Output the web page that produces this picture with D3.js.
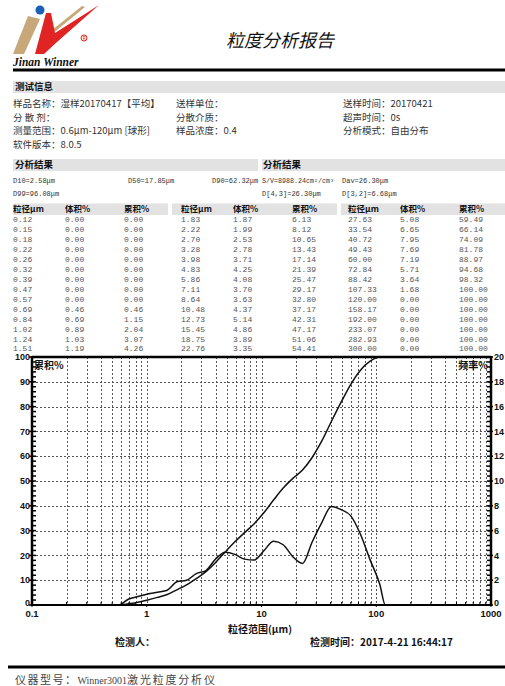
<!DOCTYPE html>
<meta charset="utf-8">
<head>
    <script src="https://cdn.jsdelivr.net/npm/d3@7"></script>
    <style>
        body { margin: 0; background: #fff; }
        text { font-family: "Noto Sans CJK SC", sans-serif; }
        .num { font-family: "Liberation Mono", monospace; font-size: 8px; fill: #555; }
        .res { font-family: "Liberation Mono", monospace; font-size: 7px; fill: #333; }
        .info { font-size: 9.5px; fill: #333; }
        .bold { font-weight: bold; fill: #111; }
        .tick { font-family: "Liberation Sans", Arial, sans-serif; font-weight: bold; font-size: 9px; fill: #111; }
    </style>
</head>
<body>
<script>
    // data from the report table
    var sizes = [0.12, 0.15, 0.18, 0.22, 0.26, 0.32, 0.39, 0.47, 0.57, 0.69, 0.84, 1.02, 1.24, 1.51,
        1.83, 2.22, 2.70, 3.28, 3.98, 4.83, 5.86, 7.11, 8.64, 10.48, 12.73, 15.45, 18.75, 22.76,
        27.63, 33.54, 40.72, 49.43, 60.00, 72.84, 88.42, 107.33, 120.00, 158.17, 192.00, 233.07, 282.93, 300.00];
    var volume = [0, 0, 0, 0, 0, 0, 0, 0, 0, 0.46, 0.69, 0.89, 1.03, 1.19,
        1.87, 1.99, 2.53, 2.78, 3.71, 4.25, 4.08, 3.70, 3.63, 4.37, 5.14, 4.86, 3.89, 3.35,
        5.08, 6.65, 7.95, 7.69, 7.19, 5.71, 3.64, 1.68, 0, 0, 0, 0, 0, 0];
    var cumulative = [0, 0, 0, 0, 0, 0, 0, 0, 0, 0.46, 1.15, 2.04, 3.07, 4.26,
        6.13, 8.12, 10.65, 13.43, 17.14, 21.39, 25.47, 29.17, 32.80, 37.17, 42.31, 47.17, 51.06, 54.41,
        59.49, 66.14, 74.09, 81.78, 88.97, 94.68, 98.32, 100, 100, 100, 100, 100, 100, 100];

    var infoRows = [
        ["样品名称：湿样20170417【平均】", "送样单位：", "送样时间：20170421"],
        ["分 散 剂：", "分散介质：", "超声时间：0s"],
        ["测量范围：0.6μm-120μm [球形]", "样品浓度：0.4", "分析模式：自由分布"],
        ["软件版本：8.0.5", "", ""]
    ];
    var resultsLeft = [["D10=2.58μm", "D50=17.85μm", "D90=62.32μm"], ["D99=96.08μm", "", ""]];
    var resultsRight = [["S/V=8988.24cm²/cm³", "Dav=26.30μm"], ["D[4,3]=26.30μm", "D[3,2]=6.68μm"]];
    var tableHeaders = ["粒径μm", "体积%", "累积%"];
    var xTicks = [0.1, 1, 10, 100, 1000];
    var yTicksLeft = [0, 10, 20, 30, 40, 50, 60, 70, 80, 90, 100];
    var yTicksRight = [0, 2, 4, 6, 8, 10, 12, 14, 16, 18, 20];

    var W = 505, H = 686;
    var svg = d3.select("body").append("svg").attr("width", W).attr("height", H);

    // ---- logo ----
    var logo = svg.append("g");
    logo.append("path").attr("d", "M13,54 L28,16 L40,19 L24,54 Z").attr("fill", "#c8a87a");
    logo.append("path").attr("d", "M42,38 L82,6 L85,7 L46,39 Z").attr("fill", "#c8a87a");
    logo.append("path").attr("d", "M35,54 L46,13 L51,13 L55,33 L99,5 L57,42 L44,54 Z").attr("fill", "#e02424");
    logo.append("circle").attr("cx", 40).attr("cy", 10).attr("r", 4.5).attr("fill", "#1c5fb8");
    logo.append("circle").attr("cx", 84).attr("cy", 38).attr("r", 3).attr("fill", "none").attr("stroke", "#e02424").attr("stroke-width", 1);
    logo.append("text").attr("x", 84).attr("y", 40).attr("text-anchor", "middle")
        .style("font-size", "5px").style("fill", "#e02424").text("R");
    logo.append("text").attr("x", 13).attr("y", 66)
        .style("font-family", "'Liberation Serif', serif").style("font-style", "italic").style("font-weight", "bold")
        .style("font-size", "11.5px").style("fill", "#111").text("Jinan Winner");

    svg.append("text").attr("x", 280).attr("y", 47).attr("text-anchor", "middle")
        .style("font-size", "18px").style("font-style", "italic").style("fill", "#111")
        .text("粒度分析报告");

    svg.append("line").attr("x1", 13).attr("x2", W).attr("y1", 70).attr("y2", 70)
        .attr("stroke", "#000").attr("stroke-width", 3);

    // ---- test info ----
    svg.append("rect").attr("x", 13).attr("y", 81).attr("width", W - 13).attr("height", 12).attr("fill", "#e2e2e2");
    svg.append("text").attr("class", "info bold").attr("x", 15).attr("y", 87).attr("dy", "0.35em").text("测试信息");
    var infoX = [13, 176, 343];
    infoRows.forEach(function (row, i) {
        row.forEach(function (t, j) {
            svg.append("text").attr("class", "info").attr("x", infoX[j]).attr("y", 104 + i * 13.5)
                .attr("dy", "0.35em").text(t);
        });
    });

    // ---- results ----
    svg.append("rect").attr("x", 13).attr("y", 159).attr("width", 245).attr("height", 12).attr("fill", "#e2e2e2");
    svg.append("rect").attr("x", 262).attr("y", 159).attr("width", W - 262).attr("height", 12).attr("fill", "#e2e2e2");
    svg.append("text").attr("class", "info bold").attr("x", 15).attr("y", 165).attr("dy", "0.35em").text("分析结果");
    svg.append("text").attr("class", "info bold").attr("x", 263).attr("y", 165).attr("dy", "0.35em").text("分析结果");
    var resLX = [13, 128, 212], resRX = [262, 342];
    resultsLeft.forEach(function (row, i) {
        row.forEach(function (t, j) {
            svg.append("text").attr("class", "res").attr("x", resLX[j]).attr("y", 181 + i * 13).attr("dy", "0.35em").text(t);
        });
    });
    resultsRight.forEach(function (row, i) {
        row.forEach(function (t, j) {
            var el = svg.append("text").attr("class", "res").attr("x", resRX[j]).attr("y", 181 + i * 13).attr("dy", "0.35em").text(t);
            if (i === 0 && j === 0) el.attr("textLength", 72).attr("lengthAdjust", "spacingAndGlyphs");
        });
    });

    // ---- table ----
    var groupX = [13, 181, 348], colOff = [0, 52, 111];
    var bandX = [[13, 168], [172, 337], [341, W]];
    bandX.forEach(function (b) {
        svg.append("rect").attr("x", b[0]).attr("y", 203.5).attr("width", b[1] - b[0]).attr("height", 11.5).attr("fill", "#e2e2e2");
    });
    groupX.forEach(function (gx, g) {
        tableHeaders.forEach(function (h, c) {
            svg.append("text").attr("class", "info bold").style("font-size", "8.5px")
                .attr("x", gx + colOff[c]).attr("y", 209.3).attr("dy", "0.35em").text(h);
        });
        for (var r = 0; r < 14; r++) {
            var k = g * 14 + r;
            var vals = [sizes[k].toFixed(2), volume[k].toFixed(2), cumulative[k].toFixed(2)];
            vals.forEach(function (v, c) {
                svg.append("text").attr("class", "num").attr("x", gx + colOff[c]).attr("y", 219.3 + r * 9.95)
                    .attr("dy", "0.35em").text(v);
            });
        }
    });

    // ---- chart ----
    var x = d3.scaleLog().domain([0.1, 1000]).range([32, 491]);
    var y = d3.scaleLinear().domain([0, 100]).range([605, 357]);
    var y2 = d3.scaleLinear().domain([0, 20]).range([605, 357]);

    var logTicks = [];
    [0.1, 1, 10, 100].forEach(function (d) {
        for (var m = 1; m <= 9; m++) logTicks.push(d * m);
    });
    logTicks.push(1000);

    var grid = svg.append("g").attr("stroke", "#555").attr("stroke-width", 1).attr("stroke-dasharray", "2,2");
    grid.selectAll("line.v").data(logTicks.filter(function (d) { return d > 0.1 && d < 1000; }))
        .enter().append("line")
        .attr("x1", function (d) { return Math.round(x(d)) + 0.5; })
        .attr("x2", function (d) { return Math.round(x(d)) + 0.5; })
        .attr("y1", y(100)).attr("y2", y(0));
    grid.selectAll("line.h").data(yTicksLeft.filter(function (d) { return d > 0 && d < 100; }))
        .enter().append("line")
        .attr("y1", function (d) { return Math.round(y(d)) + 0.5; })
        .attr("y2", function (d) { return Math.round(y(d)) + 0.5; })
        .attr("x1", x(0.1)).attr("x2", x(1000));

    // curves
    var cumLine = d3.line().x(function (d) { return x(d[0]); }).y(function (d) { return y(d[1]); })
        .curve(d3.curveMonotoneX);
    var volLine = d3.line().x(function (d) { return x(d[0]); }).y(function (d) { return y2(d[1]); })
        .curve(d3.curveMonotoneX);
    var cumPts = sizes.map(function (s, i) { return [s, cumulative[i]]; });
    var volPts = sizes.map(function (s, i) { return [s, volume[i]]; });
    svg.append("path").datum(cumPts).attr("d", cumLine).attr("fill", "none").attr("stroke", "#111").attr("stroke-width", 1.5);
    svg.append("path").datum(volPts).attr("d", volLine).attr("fill", "none").attr("stroke", "#111").attr("stroke-width", 1.5);

    // frame
    var frame = svg.append("g").attr("stroke", "#000");
    frame.append("line").attr("x1", x(0.1)).attr("x2", x(0.1)).attr("y1", y(100) - 1).attr("y2", y(0) + 1).attr("stroke-width", 2.5);
    frame.append("line").attr("x1", x(1000)).attr("x2", x(1000)).attr("y1", y(100) - 1).attr("y2", y(0) + 1).attr("stroke-width", 2.5);
    frame.append("line").attr("x1", x(0.1)).attr("x2", x(1000)).attr("y1", y(100)).attr("y2", y(100)).attr("stroke-width", 2.5);
    frame.append("line").attr("x1", x(0.1)).attr("x2", x(1000)).attr("y1", y(0)).attr("y2", y(0)).attr("stroke-width", 2);

    // minor ticks
    var minorY = d3.range(0, 101, 2);
    frame.selectAll("line.ml").data(minorY).enter().append("line")
        .attr("x1", function (d) { return d % 10 === 0 ? x(0.1) - 3 : x(0.1); })
        .attr("x2", x(0.1) + 4)
        .attr("y1", function (d) { return y(d); }).attr("y2", function (d) { return y(d); })
        .attr("stroke-width", 1.5);
    frame.selectAll("line.mr").data(minorY).enter().append("line")
        .attr("x1", x(1000) - 4)
        .attr("x2", function (d) { return d % 10 === 0 ? x(1000) + 2 : x(1000); })
        .attr("y1", function (d) { return y(d); }).attr("y2", function (d) { return y(d); })
        .attr("stroke-width", 1.5);
    frame.selectAll("line.mb").data(logTicks).enter().append("line")
        .attr("x1", function (d) { return x(d); }).attr("x2", function (d) { return x(d); })
        .attr("y1", y(0)).attr("y2", function (d) { return xTicks.indexOf(d) >= 0 ? y(0) + 2 : y(0) - 3; })
        .attr("stroke-width", 1);

    // tick labels
    svg.selectAll("text.yl").data(yTicksLeft).enter().append("text").attr("class", "tick")
        .attr("x", x(0.1) - 2).attr("y", function (d) { return d === 0 ? y(d) - 2 : y(d); }).attr("dy", "0.35em")
        .attr("text-anchor", "end").text(function (d) { return d; });
    svg.selectAll("text.yr").data(yTicksRight).enter().append("text").attr("class", "tick")
        .attr("x", x(1000) + 3).attr("y", function (d) { return d === 0 ? y2(d) - 2 : y2(d); }).attr("dy", "0.35em")
        .text(function (d) { return d; });
    svg.selectAll("text.xl").data(xTicks).enter().append("text").attr("class", "tick")
        .style("font-size", "9.5px")
        .attr("x", function (d) { return x(d); }).attr("y", 617).attr("text-anchor", "middle")
        .text(function (d) { return d; });

    svg.append("text").attr("class", "info bold").style("font-size", "10px").attr("x", 34).attr("y", 369).text("累积%");
    svg.append("text").attr("class", "info bold").style("font-size", "10px").attr("x", 488).attr("y", 369)
        .attr("text-anchor", "end").text("频率%");

    svg.append("text").attr("class", "info bold").style("font-size", "10px").attr("x", 260).attr("y", 629)
        .attr("dy", "0.35em").attr("text-anchor", "middle").text("粒径范围(μm)");
    svg.append("text").attr("class", "info bold").style("font-size", "10px").attr("x", 115).attr("y", 642)
        .attr("dy", "0.35em").text("检测人：");
    svg.append("text").attr("class", "info bold").style("font-size", "10px").attr("x", 310).attr("y", 642)
        .attr("dy", "0.35em").text("检测时间：2017-4-21 16:44:17");

    svg.append("line").attr("x1", 8).attr("x2", W).attr("y1", 667).attr("y2", 667)
        .attr("stroke", "#000").attr("stroke-width", 3);
    var foot = svg.append("text").attr("x", 15).attr("y", 680).attr("dy", "0.35em")
        .style("font-size", "11px").style("fill", "#444");
    foot.append("tspan").style("letter-spacing", "1.5px").text("仪器型号：");
    foot.append("tspan").style("font-family", "'Liberation Serif', serif").style("font-size", "10px").text("Winner3001");
    foot.append("tspan").style("letter-spacing", "1.8px").text("激光粒度分析仪");
</script>
</body>
